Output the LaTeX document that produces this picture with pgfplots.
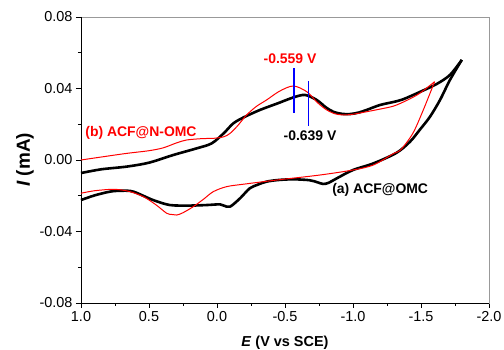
\documentclass[border=0pt]{standalone}
\usepackage{pgfplots}
\pgfplotsset{compat=1.18}
\usepackage{fontspec}
\setmainfont{Liberation Sans}
\begin{document}
\begin{tikzpicture}
\begin{axis}[
  name=ax,
  scale only axis, width=408bp, height=286bp,
  x dir=reverse, xmin=-2, xmax=1, ymin=-0.08, ymax=0.08,
  xtick={-2,-1.5,-1,-0.5,0,0.5,1}, ytick={-0.08,-0.04,0,0.04,0.08},
  minor x tick num=1, minor y tick num=1,
  xtick pos=bottom, ytick pos=left, tick align=outside,
  major tick length=5bp, minor tick length=3bp,
  every tick/.style={black, line width=0.8bp},
  axis line style={gray!80, line width=0.8bp},
  /pgf/number format/assume math mode=true,
  xticklabel style={font=\fontsize{14.5}{16}\selectfont, /pgf/number format/.cd, fixed, fixed zerofill, precision=1},
  yticklabel style={font=\fontsize{14.5}{16}\selectfont, /pgf/number format/.cd, fixed, fixed zerofill, precision=2},
  scaled y ticks=false,
  xlabel={\textbf{\textit{E} (V vs SCE)}},
  ylabel={\textbf{\textit{I} (mA)}},
  xlabel style={font=\fontsize{14.5}{16}\selectfont, at={(axis description cs:0.5,-0.14)}, anchor=center},
  ylabel style={font=\fontsize{19}{21}\selectfont, at={(axis description cs:-0.137,0.5)}, anchor=center},
  clip=false,
]
\draw[black, line width=0.8bp] (axis description cs:0,1) -- (axis description cs:0,0) -- (axis description cs:1,0);
% ACF@OMC forward
\addplot[black, line width=2.6bp, smooth, tension=0.5] coordinates {
(1.0,-0.0073) (0.85,-0.0052) (0.664,-0.0037) (0.5,-0.0015) (0.321,0.0028) (0.15,0.0065) (0.039,0.0093) (-0.05,0.015) (-0.12,0.0205) (-0.2,0.024) (-0.316,0.028) (-0.45,0.0318) (-0.561,0.035) (-0.647,0.0364) (-0.733,0.0336) (-0.80,0.0295) (-0.855,0.027) (-0.92,0.0258) (-0.978,0.0257) (-1.04,0.0265) (-1.10,0.028) (-1.20,0.0308) (-1.30,0.0325) (-1.37,0.034) (-1.49,0.038) (-1.615,0.0425) (-1.713,0.0476) (-1.80,0.056)
};
% ACF@OMC reverse
\addplot[black, line width=2.6bp, smooth, tension=0.5] coordinates {
(-1.80,0.056) (-1.713,0.0448) (-1.64,0.0336) (-1.566,0.0242) (-1.49,0.0168) (-1.42,0.0103) (-1.32,0.0040) (-1.15,-0.0019) (-1.00,-0.0056) (-0.88,-0.0103) (-0.82,-0.0128) (-0.78,-0.0134) (-0.74,-0.0125) (-0.68,-0.0113) (-0.56,-0.0108) (-0.45,-0.0112) (-0.365,-0.0121) (-0.30,-0.0138) (-0.24,-0.0159) (-0.17,-0.0214) (-0.096,-0.0261) (-0.05,-0.0255) (-0.022,-0.0248) (0.076,-0.0252) (0.2,-0.0255) (0.346,-0.0252) (0.47,-0.0224) (0.615,-0.0177) (0.70,-0.0172) (0.787,-0.0177) (0.9,-0.0198) (1.0,-0.0224)
};
% ACF@N-OMC forward
\addplot[red, line width=1bp, smooth, tension=0.5] coordinates {
(1.0,0.0) (0.83,0.0019) (0.664,0.0037) (0.5,0.0052) (0.395,0.0068) (0.30,0.0095) (0.223,0.0112) (0.10,0.012) (0.027,0.0121) (-0.05,0.013) (-0.096,0.0149) (-0.15,0.019) (-0.218,0.0252) (-0.29,0.030) (-0.365,0.0336) (-0.46,0.0385) (-0.561,0.0414) (-0.66,0.0382) (-0.74,0.032) (-0.807,0.028) (-0.87,0.0258) (-0.929,0.0252) (-1.0,0.0256) (-1.10,0.027) (-1.20,0.0285) (-1.30,0.0302) (-1.40,0.0335) (-1.49,0.0373) (-1.60,0.0438)
};
% ACF@N-OMC reverse
\addplot[red, line width=1bp, smooth, tension=0.5] coordinates {
(-1.60,0.0438) (-1.517,0.028) (-1.44,0.0149) (-1.35,0.0056) (-1.30,0.0037) (-1.15,-0.0028) (-1.00,-0.0056) (-0.757,-0.0084) (-0.44,-0.0112) (-0.20,-0.0135) (-0.071,-0.0149) (0.027,-0.0177) (0.10,-0.022) (0.174,-0.0261) (0.25,-0.0295) (0.296,-0.0308) (0.33,-0.0305) (0.37,-0.0298) (0.45,-0.025) (0.542,-0.0205) (0.65,-0.0175) (0.76,-0.0164) (0.9,-0.0172) (1.0,-0.0186)
};
% peak markers
\addplot[blue, line width=1.2bp] coordinates {(-0.566,0.0513) (-0.566,0.0261)};
\addplot[blue, line width=1.2bp] coordinates {(-0.671,0.0442) (-0.671,0.019)};
\node[red, font=\fontsize{14}{16}\selectfont\bfseries] at (axis cs:-0.537,0.0569) {-0.559 V};
\node[black, font=\fontsize{14}{16}\selectfont\bfseries] at (axis cs:-0.684,0.0134) {-0.639 V};
\node[red, font=\fontsize{14}{16}\selectfont\bfseries] at (axis cs:0.559,0.0149) {(b) ACF@N-OMC};
\node[black, font=\fontsize{14}{16}\selectfont\bfseries] at (axis cs:-1.20,-0.0168) {(a) ACF@OMC};
\end{axis}
\pgfresetboundingbox
\path[use as bounding box] ([shift={(-81bp,-47bp)}]ax.south west) rectangle ([shift={(15bp,17bp)}]ax.north east);
\end{tikzpicture}
\end{document}
